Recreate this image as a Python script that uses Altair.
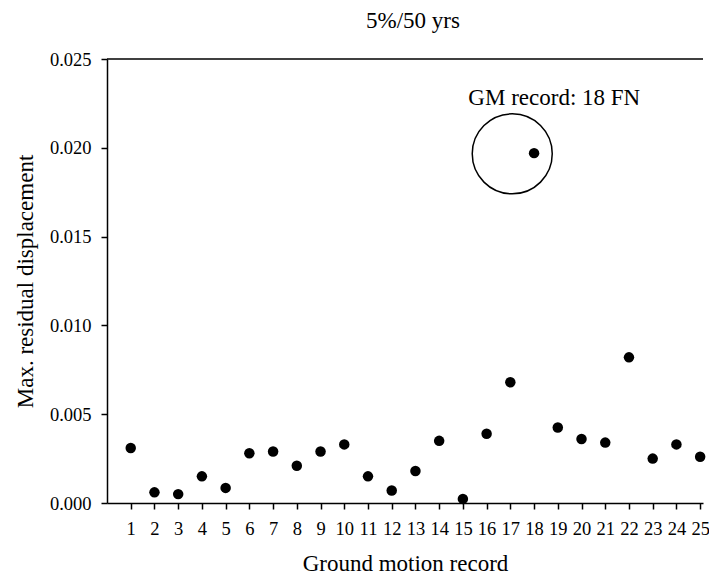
import altair as alt
import pandas as pd

records = list(range(1, 26))
residual = [0.0031, 0.0006, 0.0005, 0.0015, 0.00085, 0.0028, 0.0029, 0.0021,
            0.0029, 0.0033, 0.0015, 0.0007, 0.0018, 0.0035, 0.00023, 0.0039,
            0.0068, 0.0197, 0.00425, 0.0036, 0.0034, 0.0082, 0.0025, 0.0033,
            0.0026]
x_ticks = list(range(1, 26))
y_ticks = [0.0, 0.005, 0.010, 0.015, 0.020, 0.025]

highlight_x = [17.08]
highlight_y = [0.01966]
note_x = [15.23]
note_y = [0.02242]
note_text = ["GM record: 18 FN"]

df = pd.DataFrame({"rec": records, "val": residual})
hl = pd.DataFrame({"x": highlight_x, "y": highlight_y})
nt = pd.DataFrame({"x": note_x, "y": note_y, "t": note_text})

FONT = "Liberation Serif"
XMAX = 25.12

xs = alt.Scale(domain=[0, XMAX], nice=False, zero=False)
ys = alt.Scale(domain=[0, 0.025], nice=False)

x_axis = alt.Axis(title="Ground motion record", values=x_ticks, format="d",
                  grid=False, tickSize=6, labelPadding=10, titlePadding=15,
                  labelFlush=False, labelOverlap=False, labelBound=False)
y_axis = alt.Axis(title="Max. residual displacement", values=y_ticks, format=".3f",
                  grid=False, tickSize=6, labelPadding=10, titlePadding=12,
                  labelOverlap=False)

points = alt.Chart(df).mark_point(filled=True, color="black", size=110, opacity=1, shape="circle").encode(
    x=alt.X("rec:Q", scale=xs, axis=x_axis),
    y=alt.Y("val:Q", scale=ys, axis=y_axis),
)

circle = alt.Chart(hl).mark_point(filled=False, color="black", size=6400, strokeWidth=1.5,
                                  opacity=1, shape="circle").encode(
    x=alt.X("x:Q", scale=xs, axis=x_axis), y=alt.Y("y:Q", scale=ys, axis=y_axis))

note = alt.Chart(nt).mark_text(align="left", baseline="alphabetic", font=FONT, fontSize=23,
                               color="black").encode(
    x=alt.X("x:Q", scale=xs, axis=x_axis), y=alt.Y("y:Q", scale=ys, axis=y_axis), text="t:N")

top_rule = alt.Chart(pd.DataFrame({"y": [0.025]})).mark_rule(color="black", strokeWidth=1.5).encode(
    y=alt.Y("y:Q", scale=ys, axis=y_axis))

chart = alt.layer(points, top_rule, circle, note).properties(
    width=596, height=444,
    title=alt.TitleParams("5%/50 yrs", font=FONT, fontSize=23, fontWeight="normal",
                          color="black", anchor="middle", dx=8, offset=17),
    autosize=alt.AutoSizeParams(type="none"),
    padding={"left": 99, "top": 51, "right": 6, "bottom": 72},
).configure_view(stroke=None).configure_axis(
    labelFont=FONT, titleFont=FONT, labelFontSize=18.5, titleFontSize=23,
    titleFontWeight="normal", labelColor="black", titleColor="black",
    domainColor="black", tickColor="black", domainWidth=1.5, tickWidth=1.5,
).configure_axisX(labelOverlap=False)

chart.save("out.html", embed_options={"renderer": "svg", "actions": False})
